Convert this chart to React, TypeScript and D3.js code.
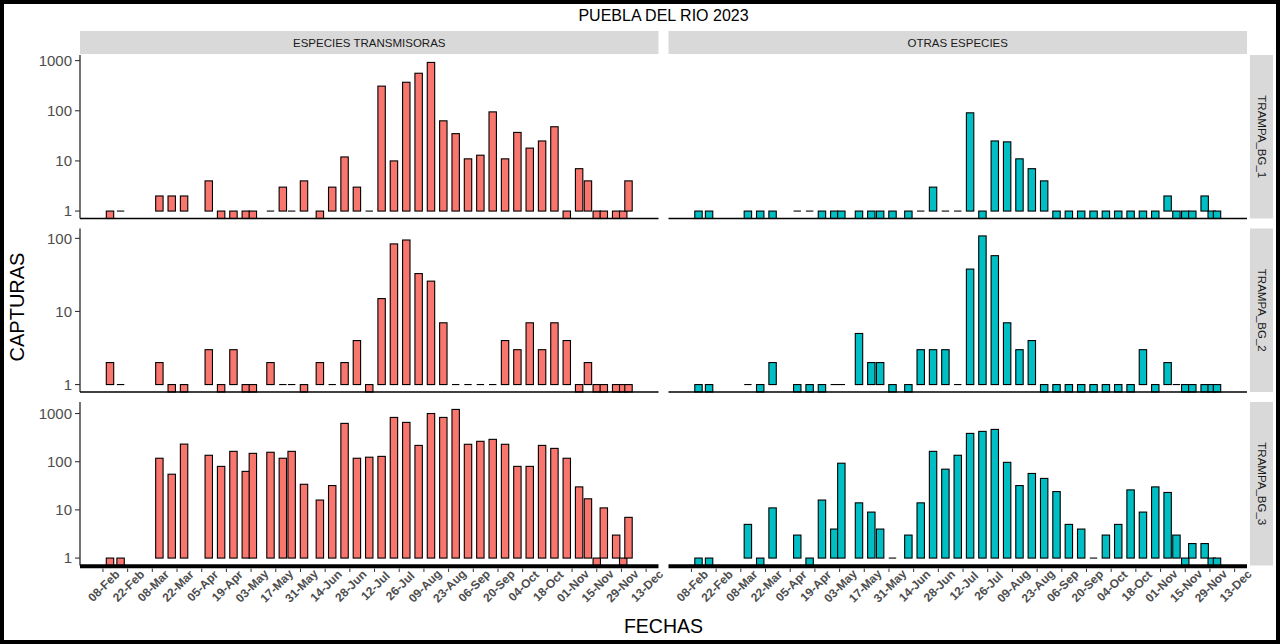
import * as d3 from "d3";

// ─── Data ────────────────────────────────────────────────────────────────────
const DATES = [
  "2023-02-12", "2023-02-18", "2023-03-12", "2023-03-19", "2023-03-26",
  "2023-04-09", "2023-04-16", "2023-04-23", "2023-04-30", "2023-05-04",
  "2023-05-14", "2023-05-21", "2023-05-26", "2023-06-02", "2023-06-11",
  "2023-06-18", "2023-06-25", "2023-07-02", "2023-07-09", "2023-07-16",
  "2023-07-23", "2023-07-30", "2023-08-06", "2023-08-13", "2023-08-20",
  "2023-08-27", "2023-09-03", "2023-09-10", "2023-09-17", "2023-09-24",
  "2023-10-01", "2023-10-08", "2023-10-15", "2023-10-22", "2023-10-29",
  "2023-11-05", "2023-11-10", "2023-11-15", "2023-11-19", "2023-11-26",
  "2023-11-30", "2023-12-03",
];

const TICK_DATES = [
  "2023-02-08", "2023-02-22", "2023-03-08", "2023-03-22", "2023-04-05",
  "2023-04-19", "2023-05-03", "2023-05-17", "2023-05-31", "2023-06-14",
  "2023-06-28", "2023-07-12", "2023-07-26", "2023-08-09", "2023-08-23",
  "2023-09-06", "2023-09-20", "2023-10-04", "2023-10-18", "2023-11-01",
  "2023-11-15", "2023-11-29", "2023-12-13",
];

const GROUPS = ["ESPECIES TRANSMISORAS", "OTRAS ESPECIES"];
const TRAPS = ["TRAMPA_BG_1", "TRAMPA_BG_2", "TRAMPA_BG_3"];
const GROUP_COLORS = ["#F8766D", "#00BFC4"];

// captures per sampling date (0 = none, drawn below the 1 line like ggplot does)
const TRANS_BG1 = [0, 1, 2, 2, 2, 4, 0, 0, 0, 0, 1, 3, 1, 4, 0, 3, 12, 3, 1, 310, 10, 370, 560, 920, 63, 35, 11, 13, 95, 11, 37, 18, 25, 48, 0, 7, 4, 0, 0, 0, 0, 4];
const TRANS_BG2 = [2, 1, 2, 0, 0, 3, 0, 3, 0, 0, 2, 1, 1, 0, 2, 1, 2, 4, 0, 15, 84, 95, 33, 26, 7, 1, 1, 1, 1, 4, 3, 7, 3, 7, 4, 0, 2, 0, 0, 0, 0, 0];
const TRANS_BG3 = [0, 0, 118, 55, 232, 136, 80, 164, 63, 149, 157, 118, 164, 34, 16, 32, 624, 118, 124, 129, 830, 655, 218, 1000, 830, 1216, 230, 265, 291, 230, 80, 80, 218, 189, 118, 30, 17, 0, 11, 3, 0, 7];
const OTRAS_BG1 = [0, 0, 0, 0, 0, 1, 1, 0, 0, 0, 0, 0, 0, 0, 0, 1, 3, 1, 1, 91, 0, 25, 24, 11, 7, 4, 0, 0, 0, 0, 0, 0, 0, 0, 0, 2, 0, 0, 0, 2, 0, 0];
const OTRAS_BG2 = [0, 0, 1, 0, 2, 0, 0, 0, 1, 1, 5, 2, 2, 0, 0, 3, 3, 3, 1, 38, 108, 58, 7, 3, 4, 0, 0, 0, 0, 0, 0, 0, 0, 3, 0, 2, 1, 0, 0, 0, 0, 0];
const OTRAS_BG3 = [0, 0, 5, 0, 11, 3, 0, 16, 4, 93, 14, 9, 4, 1, 3, 14, 164, 70, 136, 387, 426, 468, 97, 32, 57, 45, 24, 5, 4, 1, 3, 5, 26, 9, 30, 23, 3, 0, 2, 2, 0, 0];

const SERIES = [
  [TRANS_BG1, OTRAS_BG1],
  [TRANS_BG2, OTRAS_BG2],
  [TRANS_BG3, OTRAS_BG3],
];

// ─── Layout ──────────────────────────────────────────────────────────────────
const W = 1280;
const H = 644;
const PANEL_LEFT = [80, 668.5];
const PANEL_W = 578.5;
const ROW_TOP = [55, 228.5, 402];
const PANEL_H = 163.5;
const BAR_DAYS = 4.2;
const FONT = "'Liberation Sans', Arial, sans-serif";
const DAY = 86400000;

const parse = d3.utcParse("%Y-%m-%d");
const fmt = d3.utcFormat("%d-%b");

export default function App() {
  const dates = DATES.map((d) => parse(d) as Date);
  const ticks = TICK_DATES.map((d) => parse(d) as Date);

  // ggplot-like domain: data extent plus half a bar, expanded 5 %
  const [dMin, dMax] = d3.extent(dates) as [Date, Date];
  const lo = +dMin - (BAR_DAYS / 2) * DAY;
  const hi = +dMax + (BAR_DAYS / 2) * DAY;
  const pad = (hi - lo) * 0.05;
  const xDomain = [new Date(lo - pad), new Date(hi + pad)];
  const xScales = PANEL_LEFT.map((l) =>
    d3.scaleUtc().domain(xDomain).range([l, l + PANEL_W])
  );

  const yScales = SERIES.map((row, r) => {
    const top = d3.max(row.flat().filter((v) => v > 0), (v) => Math.log10(v)) ?? 1;
    const e = top * 0.05;
    return d3.scaleLinear().domain([-e, top + e]).range([ROW_TOP[r] + PANEL_H, ROW_TOP[r]]);
  });

  const barW = (xs: d3.ScaleTime<number, number>) =>
    xs(new Date(+xDomain[0] + BAR_DAYS * DAY)) - xs(xDomain[0]);

  return (
    <svg width={W} height={H} style={{ position: "absolute", left: 0, top: 0, background: "#fff" }} fontFamily={FONT}>
      <rect x={2} y={2} width={W - 4} height={H - 4} fill="#fff" stroke="#000" strokeWidth={4} />

      <text x={663.5} y={21} textAnchor="middle" fontSize={16} fill="#000">
        PUEBLA DEL RIO 2023
      </text>

      {/* top strips */}
      {GROUPS.map((g, c) => (
        <g key={g}>
          <rect x={PANEL_LEFT[c]} y={31} width={PANEL_W} height={23} fill="#D9D9D9" />
          <text x={PANEL_LEFT[c] + PANEL_W / 2} y={46.5} textAnchor="middle" fontSize={11.5} fill="#1A1A1A">
            {g}
          </text>
        </g>
      ))}

      {/* right strips */}
      {TRAPS.map((t, r) => (
        <g key={t}>
          <rect x={1250} y={ROW_TOP[r]} width={23} height={PANEL_H} fill="#D9D9D9" />
          <text
            transform={`translate(1261.5,${ROW_TOP[r] + PANEL_H / 2}) rotate(90)`}
            textAnchor="middle"
            dominantBaseline="central"
            fontSize={11.5}
            fill="#1A1A1A"
          >
            {t}
          </text>
        </g>
      ))}

      {SERIES.map((row, r) => {
        const ys = yScales[r];
        const bottom = ROW_TOP[r] + PANEL_H;
        const y0 = ys(0);
        const yTicks = [1, 10, 100, 1000].filter((v) => Math.log10(v) <= ys.domain()[1]);
        return (
          <g key={r}>
            {/* y axis */}
            <line x1={80} x2={80} y1={ROW_TOP[r]} y2={bottom} stroke="#000" strokeWidth={1.1} />
            {yTicks.map((v) => (
              <g key={v}>
                <line x1={75} x2={80} y1={ys(Math.log10(v))} y2={ys(Math.log10(v))} stroke="#333" strokeWidth={1.1} />
                <text x={72} y={ys(Math.log10(v))} dy="0.36em" textAnchor="end" fontSize={15} fill="#4D4D4D">
                  {v}
                </text>
              </g>
            ))}

            {row.map((vals, c) => {
              const xs = xScales[c];
              const w = barW(xs);
              return (
                <g key={c}>
                  {vals.map((v, i) => {
                    const cx = xs(dates[i]);
                    if (v === 1)
                      return <line key={i} x1={cx - w / 2} x2={cx + w / 2} y1={y0} y2={y0} stroke="#000" strokeWidth={1.1} />;
                    const yTop = v === 0 ? y0 : ys(Math.log10(v));
                    const yBot = v === 0 ? bottom : y0;
                    return (
                      <rect
                        key={i}
                        x={cx - w / 2}
                        y={yTop}
                        width={w}
                        height={yBot - yTop}
                        fill={GROUP_COLORS[c]}
                        stroke="#000"
                        strokeWidth={1.1}
                      />
                    );
                  })}
                  {/* bottom axis line */}
                  <line
                    x1={PANEL_LEFT[c]}
                    x2={PANEL_LEFT[c] + PANEL_W}
                    y1={r === 2 ? bottom + 0.8 : bottom}
                    y2={r === 2 ? bottom + 0.8 : bottom}
                    stroke="#000"
                    strokeWidth={r === 2 ? 4 : 1.5}
                  />
                </g>
              );
            })}
          </g>
        );
      })}

      {/* x axis ticks + labels */}
      {xScales.map((xs, c) => (
        <g key={c}>
          {ticks.map((t, i) => (
            <g key={i}>
              <line x1={xs(t)} x2={xs(t)} y1={568.5} y2={572} stroke="#333" strokeWidth={1} />
              <text
                transform={`translate(${xs(t) + 1},586) rotate(-45)`}
                textAnchor="middle"
                dominantBaseline="central"
                fontSize={12}
                fontWeight="bold"
                fill="#4D4D4D"
              >
                {fmt(t)}
              </text>
            </g>
          ))}
        </g>
      ))}

      <text x={663.5} y={633} textAnchor="middle" fontSize={19.5} fill="#000">
        FECHAS
      </text>
      <text transform="translate(24,307) rotate(-90)" textAnchor="middle" fontSize={20} fill="#000">
        CAPTURAS
      </text>
    </svg>
  );
}
